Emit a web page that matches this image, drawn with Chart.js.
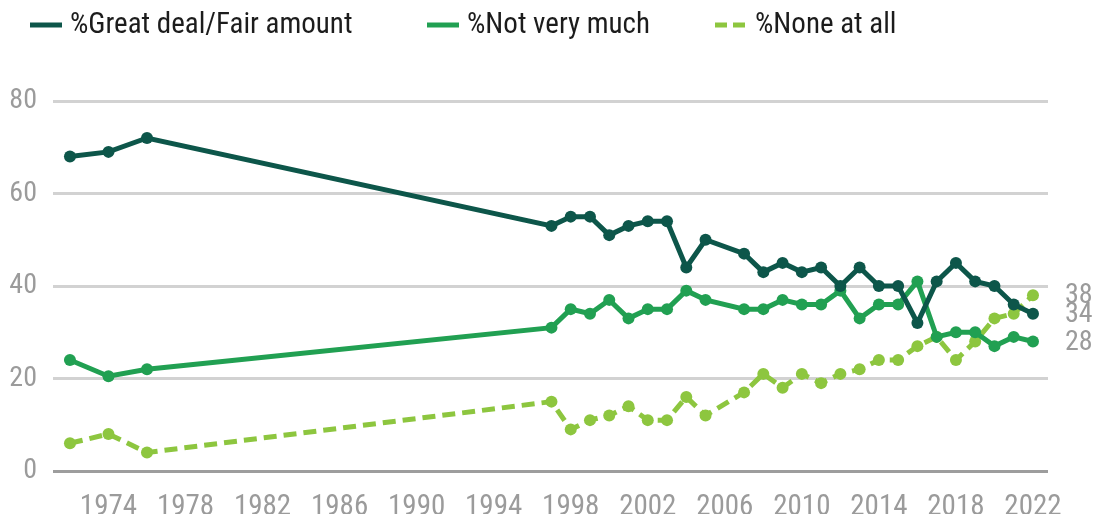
<!DOCTYPE html>
<html>
<head>
<meta charset="utf-8">
<script src="https://cdn.jsdelivr.net/npm/chart.js@4/dist/chart.umd.min.js"></script>
<style>
  html, body { margin: 0; padding: 0; background: #fff; }
  #wrap { width: 1094px; height: 514px; }
</style>
</head>
<body>
<div id="wrap"><canvas id="grafico"></canvas></div>
<script>
// survey years (gap between 1976 and 1997, no 2006)
const anos = [1972, 1974, 1976, 1997, 1998, 1999, 2000, 2001, 2002, 2003, 2004, 2005,
  2007, 2008, 2009, 2010, 2011, 2012, 2013, 2014, 2015, 2016, 2017, 2018, 2019, 2020, 2021, 2022];

const greatDeal = [68, 69, 72, 53, 55, 55, 51, 53, 54, 54, 44, 50,
  47, 43, 45, 43, 44, 40, 44, 40, 40, 32, 41, 45, 41, 40, 36, 34];
const notVeryMuch = [24, 20.5, 22, 31, 35, 34, 37, 33, 35, 35, 39, 37,
  35, 35, 37, 36, 36, 39, 33, 36, 36, 41, 29, 30, 30, 27, 29, 28];
const noneAtAll = [6, 8, 4, 15, 9, 11, 12, 14, 11, 11, 16, 12,
  17, 21, 18, 21, 19, 21, 22, 24, 24, 27, 29, 24, 28, 33, 34, 38];

const seriesNames = ["%Great deal/Fair amount", "%Not very much", "%None at all"];
const tickAnos = [1974, 1978, 1982, 1986, 1990, 1994, 1998, 2002, 2006, 2010, 2014, 2018, 2022];
const tickValores = [0, 20, 40, 60, 80];

const FONTE = "'Roboto Condensed', 'DejaVu Sans Condensed', sans-serif";
const CINZA = "#9b9b9b";

function pontos(valores) {
  return anos.map((a, i) => ({ x: a, y: valores[i] }));
}

function serie(label, valores, cor, dash) {
  return {
    label: label,
    data: pontos(valores),
    borderColor: cor,
    backgroundColor: cor,
    pointBackgroundColor: cor,
    pointBorderWidth: 0,
    borderWidth: 5,
    borderDash: dash || [],
    pointRadius: 6,
    pointHoverRadius: 6,
    tension: 0,
    fill: false
  };
}

// legend drawn by hand: short line + label, left to right
const legendaPlugin = {
  id: "legendaTopo",
  afterDraw(chart) {
    const ctx = chart.ctx;
    const inicios = [30, 427, 715];
    const amostras = [[], [], [12, 6]];
    ctx.save();
    chart.data.datasets.forEach((ds, i) => {
      const x = inicios[i];
      ctx.strokeStyle = ds.borderColor;
      ctx.lineWidth = 5;
      ctx.setLineDash(amostras[i]);
      ctx.beginPath();
      ctx.moveTo(x, 25);
      ctx.lineTo(x + 32, 25);
      ctx.stroke();
      ctx.setLineDash([]);
      ctx.fillStyle = "#1c1c1c";
      ctx.font = "29px " + FONTE;
      ctx.textBaseline = "middle";
      ctx.textAlign = "left";
      ctx.fillText(ds.label, x + 40, 26);
    });
    ctx.restore();
  }
};

// last value of each series, written to the right of the plot
const rotuloFinal = {
  id: "rotuloFinal",
  afterDatasetsDraw(chart) {
    const ctx = chart.ctx;
    const y = chart.scales.y;
    const direita = chart.chartArea.right;
    ctx.save();
    ctx.fillStyle = CINZA;
    ctx.font = "28px " + FONTE;
    ctx.textBaseline = "middle";
    ctx.textAlign = "left";
    [greatDeal, notVeryMuch, noneAtAll].forEach(valores => {
      const v = valores[valores.length - 1];
      ctx.fillText(String(v), direita + 17, y.getPixelForValue(v) + 1);
    });
    ctx.restore();
  }
};

function criarGrafico() {
  const ctx = document.getElementById("grafico");

  new Chart(ctx, {
    type: "line",
    data: {
      datasets: [
        serie(seriesNames[0], greatDeal, "#0d564a"),
        serie(seriesNames[1], notVeryMuch, "#21a052"),
        serie(seriesNames[2], noneAtAll, "#8dc63f", [13, 7])
      ]
    },
    options: {
      responsive: true,
      maintainAspectRatio: false,
      animation: false,
      layout: { padding: { top: 101, right: 46, left: 0, bottom: 0 } },
      plugins: {
        legend: { display: false },
        tooltip: { enabled: false }
      },
      scales: {
        x: {
          type: "linear",
          min: 1971.12,
          max: 2022.78,
          grid: { display: false },
          border: { display: false },
          afterBuildTicks: (scale) => {
            scale.ticks = tickAnos.map(v => ({ value: v }));
          },
          afterFit: (scale) => { scale.height = 43; },
          ticks: {
            autoSkip: false,
            maxRotation: 0,
            padding: 11,
            color: CINZA,
            font: { family: FONTE, size: 29 },
            callback: (v) => String(v)
          }
        },
        y: {
          min: 0,
          max: 80,
          afterBuildTicks: (scale) => {
            scale.ticks = tickValores.map(v => ({ value: v }));
          },
          afterFit: (scale) => { scale.width = 53; },
          border: { display: false },
          grid: {
            drawTicks: false,
            lineWidth: 3,
            color: (c) => c.tick && c.tick.value === 0 ? "#9d9d9d" : "#d2d2d2"
          },
          ticks: {
            padding: 16,
            color: CINZA,
            font: { family: FONTE, size: 28 }
          }
        }
      }
    },
    plugins: [legendaPlugin, rotuloFinal]
  });
}

criarGrafico();
</script>
</body>
</html>
